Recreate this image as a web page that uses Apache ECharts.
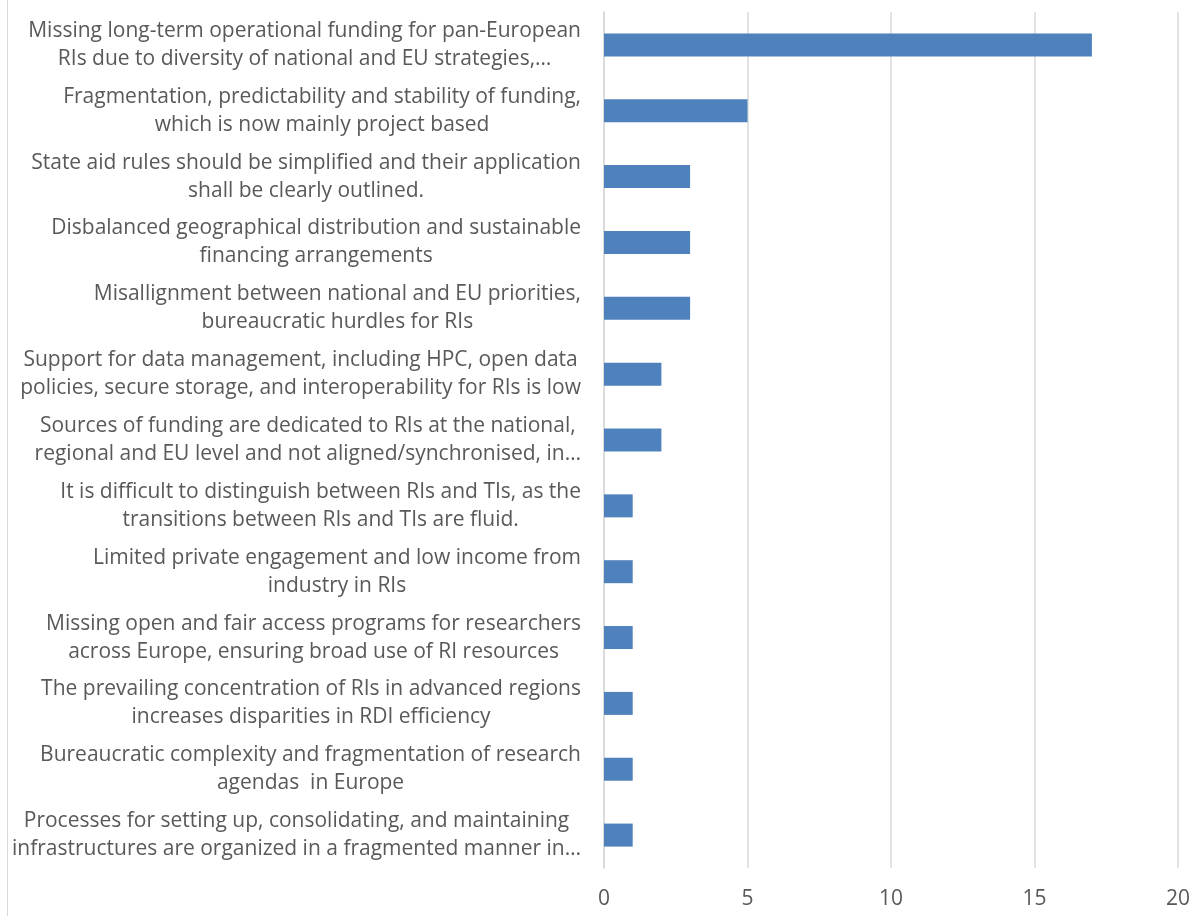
<!DOCTYPE html>
<html>
<head>
<meta charset="utf-8">
<script src="https://cdn.jsdelivr.net/npm/echarts@6/dist/echarts.min.js"></script>
<style>
html,body{margin:0;padding:0;background:#fff;}
#frame{position:absolute;left:7px;top:0;width:1191px;height:916px;border-left:1px solid #d9d9d9;}
#chart{position:absolute;left:0;top:0;width:1198px;height:916px;}
</style>
</head>
<body>
<div id="frame"></div>
<div id="chart"></div>
<script>
const categories = [
  "Missing long-term operational funding for pan-European\nRIs due to diversity of national and EU strategies,…",
  "Fragmentation, predictability and stability of funding,\nwhich is now mainly project based",
  "State aid rules should be simplified and their application\nshall be clearly outlined.",
  "Disbalanced geographical distribution and sustainable\nfinancing arrangements",
  "Misallignment between national and EU priorities,\nbureaucratic hurdles for RIs",
  "Support for data management, including HPC, open data\npolicies, secure storage, and interoperability for RIs is low",
  "Sources of funding are dedicated to RIs at the national,\nregional and EU level and not aligned/synchronised, in…",
  "It is difficult to distinguish between RIs and TIs, as the\ntransitions between RIs and TIs are fluid.",
  "Limited private engagement and low income from\nindustry in RIs",
  "Missing open and fair access programs for researchers\nacross Europe, ensuring broad use of RI resources",
  "The prevailing concentration of RIs in advanced regions\nincreases disparities in RDI efficiency",
  "Bureaucratic complexity and fragmentation of research\nagendas  in Europe",
  "Processes for setting up, consolidating, and maintaining\ninfrastructures are organized in a fragmented manner in…"
];
const values = [17, 5, 3, 3, 3, 2, 2, 1, 1, 1, 1, 1, 1];
const xTicks = { min: 0, max: 20, interval: 5 };

const FONT = "'Open Sans', sans-serif";
const TEXT = '#595959';
const GRID = '#d9d9d9';

const chart = echarts.init(document.getElementById('chart'), null, { renderer: 'canvas' });
chart.setOption({
  animation: false,
  backgroundColor: 'transparent',
  grid: { left: 604, right: 20, top: 12, bottom: 48, containLabel: false },
  xAxis: {
    type: 'value',
    min: xTicks.min, max: xTicks.max, interval: xTicks.interval,
    axisLine: { show: false },
    axisTick: { show: false },
    splitLine: { show: true, lineStyle: { color: GRID, width: 1.5 } },
    axisLabel: { color: TEXT, fontSize: 21, fontFamily: FONT, margin: 21 }
  },
  yAxis: {
    type: 'category',
    inverse: true,
    data: categories,
    axisLine: { show: true, lineStyle: { color: GRID, width: 1.5 } },
    axisTick: { show: false },
    axisLabel: {
      margin: 23,
      align: 'right',
      formatter: function (v) {
        return v.split('\n').map(function (s) { return '{c|' + s + '}'; }).join('\n');
      },
      rich: {
        c: { align: 'center', color: TEXT, fontSize: 21, fontFamily: FONT, lineHeight: 28 }
      }
    }
  },
  series: [{
    type: 'bar',
    data: values,
    barWidth: 23,
    itemStyle: { color: '#4F81BD' }
  }]
});
</script>
</body>
</html>
